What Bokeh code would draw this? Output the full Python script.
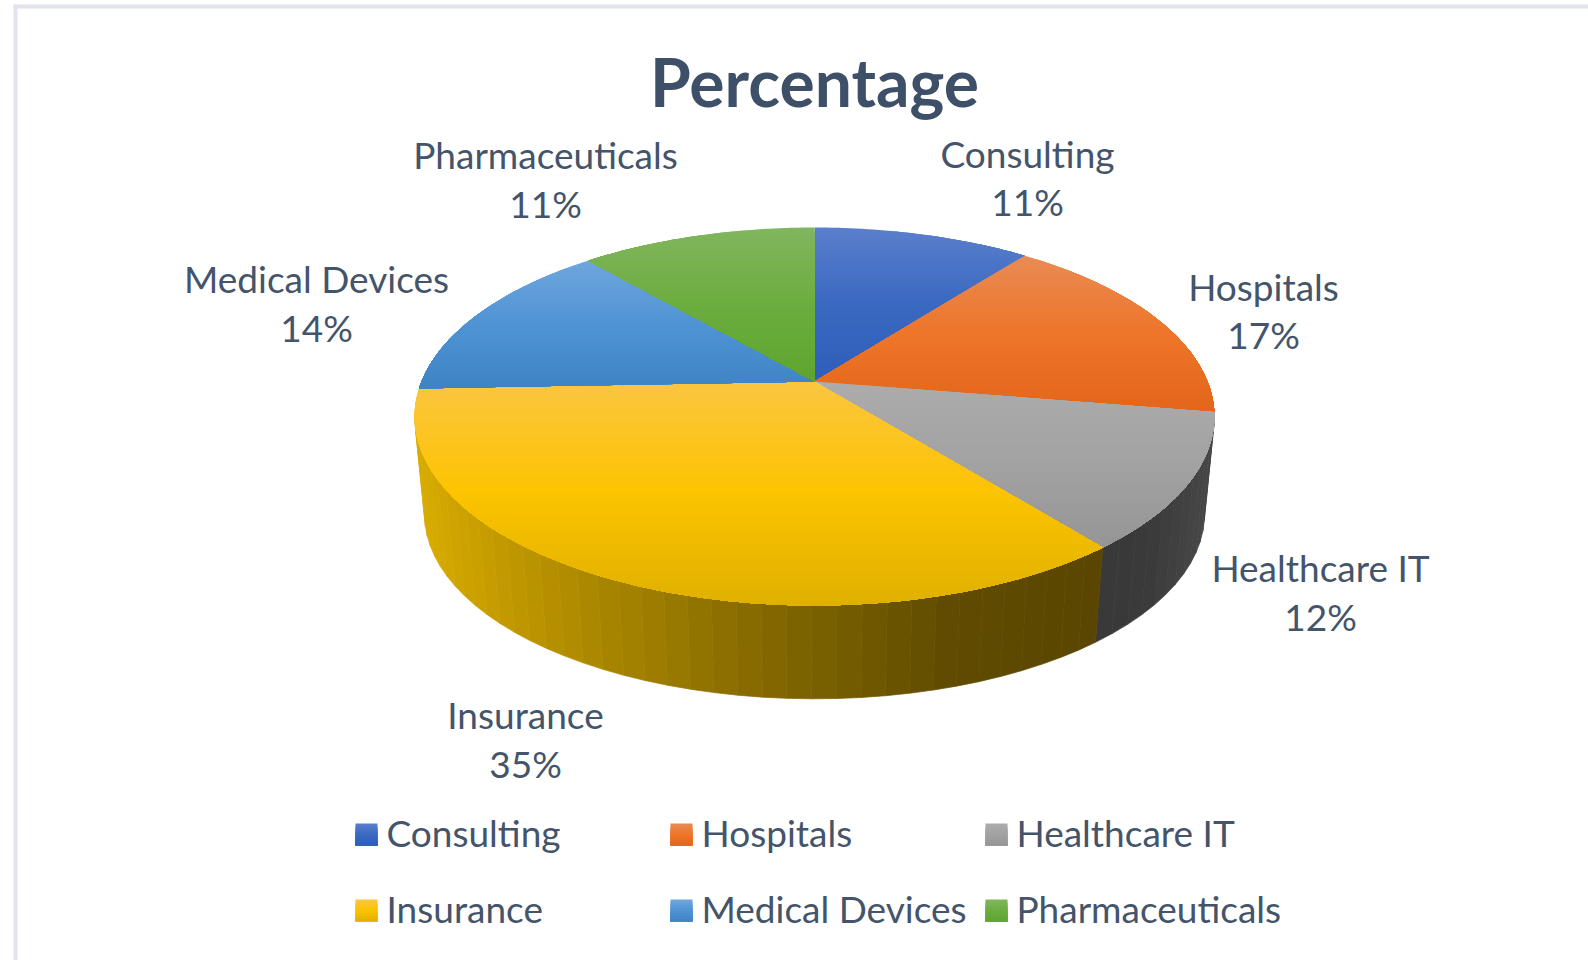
import math
from bokeh.plotting import figure
from bokeh.models import ColumnDataSource, Range1d
from bokeh.core.properties import value
from bokeh.embed import file_html
from bokeh.resources import INLINE

# ---- data ----
categories = ["Consulting", "Hospitals", "Healthcare IT", "Insurance", "Medical Devices", "Pharmaceuticals"]
shares = [10.5, 17.1, 11.6, 35.2, 14.2, 11.4]
share_labels = ["11%", "17%", "12%", "35%", "14%", "11%"]
title = "Percentage"

# ---- styles ----
top_stops = [
    ["#5a7fcc", "#3a69c1", "#2e5eb9"],
    ["#e98b54", "#ee7529", "#e3661a"],
    ["#acacac", "#a2a2a2", "#959595"],
    ["#fbc541", "#fcc400", "#dfb000"],
    ["#6fa6de", "#4f93d4", "#3e84c3"],
    ["#81b65e", "#6cad3f", "#5ea52f"],
]
side_stops = [
    [(0, "#1f3f80"), (1, "#1f3f80")],
    [(0, "#8a4010"), (1, "#8a4010")],
    [(1090, "#383838"), (1150, "#3a3a3a"), (1215, "#484848")],
    [(414, "#d8ac00"), (550, "#b58f00"), (700, "#917300"), (815, "#7a6000"), (950, "#604b00"), (1100, "#5a4600")],
    [(0, "#2a5f8f"), (1, "#2a5f8f")],
    [(0, "#3f6f20"), (1, "#3f6f20")],
]
text_color = "#44546a"
title_color = "#3e4f68"
border_color = "#dfe4ef"
font = "Lato"

# ---- layout (page pixels) ----
W, H = 1588, 960
cx, cy = 814, 381
R, S, k = 393.0, 182.5, 0.185      # perspective disc
depth_scale, cy2 = 0.975, 480.0    # lower rim
label_xy = [(1027, 153, 201), (1263, 286, 334), (1320, 567, 616),
            (525, 714, 763), (316, 278, 327), (545, 154, 203)]
legend_sw_x = [355, 670, 985, 355, 670, 985]
legend_row_y = [834, 834, 834, 910, 910, 910]
legend_text_dx = 31
label_size = "37px"


def hex2rgb(h):
    return tuple(int(h[i:i + 2], 16) for i in (1, 3, 5))


def mix(a, b, t):
    ca, cb = hex2rgb(a), hex2rgb(b)
    return "#%02x%02x%02x" % tuple(round(ca[i] + (cb[i] - ca[i]) * t) for i in range(3))


def grad3(stops, t):
    t = max(0.0, min(1.0, t))
    return mix(stops[0], stops[1], t / 0.5) if t < 0.5 else mix(stops[1], stops[2], (t - 0.5) / 0.5)


def gradx(stops, x):
    if x <= stops[0][0]:
        return stops[0][1]
    for (x0, c0), (x1, c1) in zip(stops, stops[1:]):
        if x <= x1:
            return mix(c0, c1, (x - x0) / (x1 - x0))
    return stops[-1][1]


def rim(theta, scale=1.0, yc=None):
    """theta in degrees clockwise from 12 o'clock; perspective projection."""
    yc = cy if yc is None else yc
    X, Y = math.sin(math.radians(theta)), -math.cos(math.radians(theta))
    d = 1 - k * Y
    return cx + scale * R * X / d, yc + scale * S * Y / d


def clip_y(poly, y):
    """keep the part of poly below the line y (page y grows downward)."""
    out = []
    for i, a in enumerate(poly):
        b = poly[(i + 1) % len(poly)]
        ia, ib = a[1] >= y, b[1] >= y
        if ia:
            out.append(a)
        if ia != ib:
            t = (y - a[1]) / (b[1] - a[1])
            out.append((a[0] + (b[0] - a[0]) * t, y))
    return out


p = figure(width=W, height=H, output_backend="svg", toolbar_location=None,
           x_range=Range1d(0, W), y_range=Range1d(H, 0), min_border=0,
           background_fill_color="white", border_fill_color="white", outline_line_color=None)
p.axis.visible = False
p.grid.visible = False

# page frame
p.quad(left=[13, 13], right=[17, W], top=[4, 4], bottom=[H, 8], fill_color=border_color, line_color=None)

# slice angles
bounds = [0.0]
total = sum(shares)
for v in shares:
    bounds.append(bounds[-1] + v / total * 360.0)

# side walls: broad vertical bands
sx, sy, sc = [], [], []
for i in range(len(shares)):
    a0, a1 = bounds[i], bounds[i + 1]
    n = max(1, int((a1 - a0) / 3.0))
    for j in range(n):
        t0 = a0 + (a1 - a0) * j / n
        t1 = a0 + (a1 - a0) * (j + 1) / n
        if -math.cos(math.radians((t0 + t1) / 2)) < 0.19:
            continue
        x0, y0 = rim(t0)
        x1, y1 = rim(t1)
        x2, y2 = rim(t1, depth_scale, cy2)
        x3, y3 = rim(t0, depth_scale, cy2)
        sx.append([x0, x1, x2, x3])
        sy.append([y0, y1, y2, y3])
        sc.append(gradx(side_stops[i], (x0 + x1) / 2))
p.patches(sx, sy, fill_color=sc, line_color=sc, line_width=0.7)

# top faces with a vertical gradient: each band is painted over the one before it
band = 4.0
for i in range(len(shares)):
    a0, a1 = bounds[i], bounds[i + 1]
    n = max(8, int(a1 - a0))
    poly = [(cx, cy)] + [rim(a0 + (a1 - a0) * j / n) for j in range(n + 1)]
    ymin, ymax = min(q[1] for q in poly), max(q[1] for q in poly)
    xs, ys, cs = [], [], []
    y = ymin
    while y < ymax:
        piece = clip_y(poly, y)
        if len(piece) >= 3:
            xs.append([q[0] for q in piece])
            ys.append([q[1] for q in piece])
            cs.append(grad3(top_stops[i], (y + band / 2 - ymin) / (ymax - ymin)))
        y += band
    p.patches(xs, ys, fill_color=cs, line_color=None)

# title
p.text(x=[814], y=[81], text=[title], text_font=value(font), text_font_style="bold",
       text_font_size="66px", text_color=title_color, text_align="center", text_baseline="middle")

# data labels
lab = ColumnDataSource(dict(
    x=[q[0] for q in label_xy] * 2,
    y=[q[1] for q in label_xy] + [q[2] for q in label_xy],
    t=categories + share_labels))
p.text("x", "y", text="t", source=lab, text_font=value(font), text_font_size=label_size,
       text_color=text_color, text_align="center", text_baseline="middle")

# legend
for i, name in enumerate(categories):
    x0, yc = legend_sw_x[i], legend_row_y[i]
    m = 8
    p.quad(left=[x0] * m, right=[x0 + 22] * m,
           top=[yc - 11 + 22 * j / m for j in range(m)],
           bottom=[yc + 11] * m,
           fill_color=[grad3(top_stops[i], (j + .5) / m) for j in range(m)], line_color=None)
leg = ColumnDataSource(dict(x=[v + legend_text_dx for v in legend_sw_x], y=[v - 2 for v in legend_row_y], t=categories))
p.text("x", "y", text="t", source=leg, text_font=value(font), text_font_size=label_size,
       text_color=text_color, text_align="left", text_baseline="middle")

open("out.html", "w").write(file_html(p, INLINE))
